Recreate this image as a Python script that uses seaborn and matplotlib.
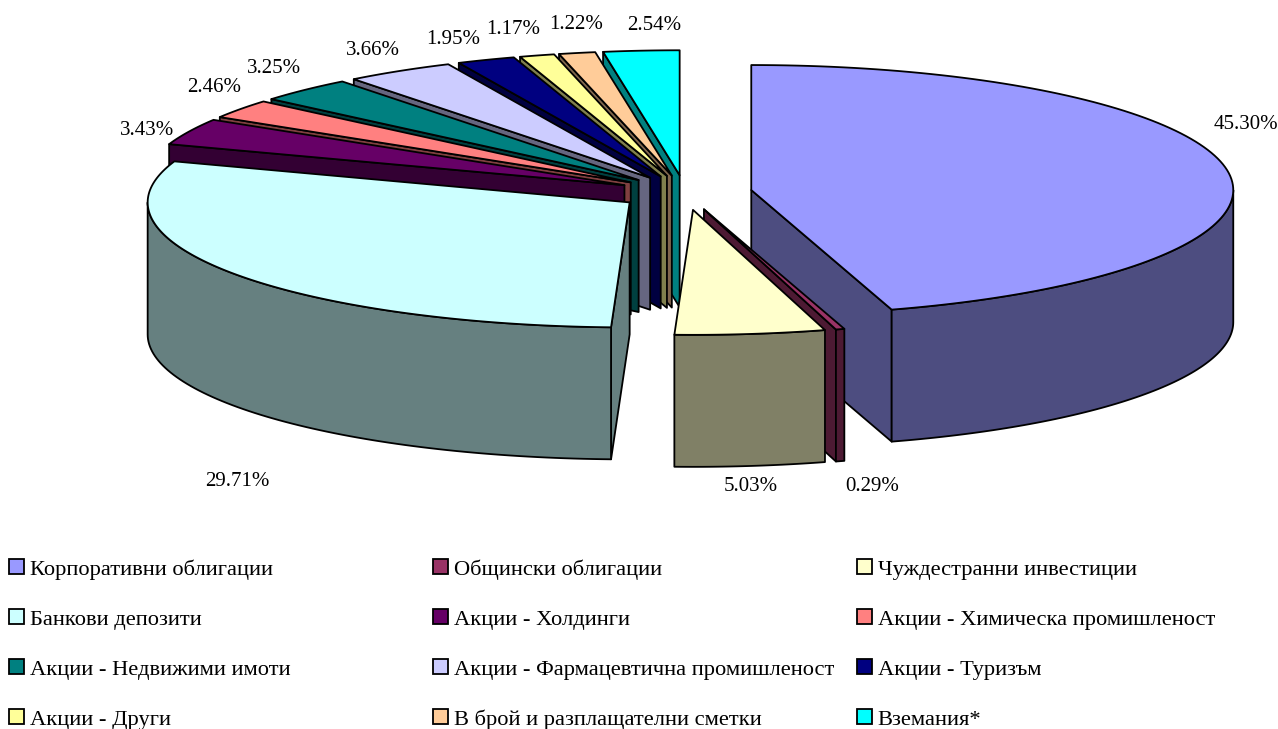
import numpy as np
import matplotlib
matplotlib.use('Agg')
import matplotlib.pyplot as plt
from matplotlib.patches import Patch
from matplotlib.colors import to_rgb
import seaborn as sns

categories = ['Корпоративни облигации', 'Общински облигации', 'Чуждестранни инвестиции',
              'Банкови депозити', 'Акции - Холдинги', 'Акции - Химическа промишленост',
              'Акции - Недвижими имоти', 'Акции - Фармацевтична промишленост', 'Акции - Туризъм',
              'Акции - Други', 'В брой и разплащателни сметки', 'Вземания*']
values = [45.30, 0.29, 5.03, 29.71, 3.43, 2.46, 3.25, 3.66, 1.95, 1.17, 1.22, 2.54]
value_labels = ['45.30%', '0.29%', '5.03%', '29.71%', '3.43%', '2.46%',
                '3.25%', '3.66%', '1.95%', '1.17%', '1.22%', '2.54%']
colors = ['#9999FF', '#993366', '#FFFFCC', '#CCFFFF', '#660066', '#FF8080',
          '#008080', '#CCCCFF', '#000080', '#FFFF99', '#FFCC99', '#00FFFF']

sns.set_style('white')
palette = sns.color_palette(colors)
plt.rcParams['font.family'] = ['Liberation Serif', 'DejaVu Serif']
plt.rcParams['text.color'] = 'black'

# pie geometry in pixels
cx, cy = 685, 192.6
rx, ry = 482, 125
depth = 132
explode = 0.139
lw = 1.3

fig = plt.figure(figsize=(12.78, 7.29), dpi=100)
ax = fig.add_axes([0, 0, 1, 1])
ax.set_xlim(0, 1278)
ax.set_ylim(729, 0)
ax.axis('off')

# angles run clockwise from 12 o'clock
total = sum(values)
edges = np.radians(np.concatenate([[0], np.cumsum(values)]) / total * 360)


def rim(x0, y0, ang):
    return x0 + rx * np.sin(ang), y0 - ry * np.cos(ang)


slices = []
for i in range(len(values)):
    a0, a1 = edges[i], edges[i + 1]
    mid = (a0 + a1) / 2
    px = cx + explode * rx * np.sin(mid)
    py = cy - explode * ry * np.cos(mid)
    slices.append((py, px, a0, a1, palette[i]))

# back slices first
for py, px, a0, a1, col in sorted(slices, key=lambda s: s[0]):
    dark = tuple(c * 0.5 for c in to_rgb(col))
    # cut faces, only those turned to the viewer
    faces = []
    if np.sin(a0) < -1e-6:
        faces.append(a0)
    if np.sin(a1) > 1e-6:
        faces.append(a1)
    for a in faces:
        ex, ey = rim(px, py, a)
        ax.fill([px, ex, ex, px], [py, ey, ey + depth, py + depth],
                facecolor=dark, edgecolor='black', lw=lw, joinstyle='round')
    # outer wall, only the part facing the viewer
    w0, w1 = max(a0, np.pi / 2), min(a1, 3 * np.pi / 2)
    if w1 > w0:
        t = np.linspace(w0, w1, 80)
        wx, wy = rim(px, py, t)
        ax.fill(np.r_[wx, wx[::-1]], np.r_[wy, wy[::-1] + depth],
                facecolor=dark, edgecolor='black', lw=lw, joinstyle='round')
    # top
    t = np.linspace(a0, a1, 120)
    tx, ty = rim(px, py, t)
    ax.fill(np.r_[px, tx], np.r_[py, ty], facecolor=col, edgecolor='black',
            lw=lw, joinstyle='round')

label_pos = [(1246, 124), (872, 486), (751, 486), (237, 481), (147, 130), (214, 87),
             (274, 68), (373, 50), (453, 39), (513, 29), (576, 24), (654, 25)]
for txt, (lx, ly) in zip(value_labels, label_pos):
    ax.text(lx, ly, txt, ha='center', va='center', fontsize=15, color='black')

# legend reads row by row, so one legend per column
handles = [Patch(facecolor=c, edgecolor='black', lw=lw) for c in palette]
for col_i, lx in enumerate([9, 433, 857]):
    idx = range(col_i, len(categories), 3)
    leg = ax.legend([handles[i] for i in idx], [categories[i] for i in idx],
                    loc='upper left', bbox_to_anchor=(lx, 559), bbox_transform=ax.transData,
                    frameon=False, fontsize=16.2, labelspacing=1.31, handlelength=0.67,
                    handleheight=0.67, handletextpad=0.25, borderpad=0, borderaxespad=0)
    ax.add_artist(leg)
ax.legend_ = None  # last one is already added as an artist

fig.savefig('out.png', dpi=100)
